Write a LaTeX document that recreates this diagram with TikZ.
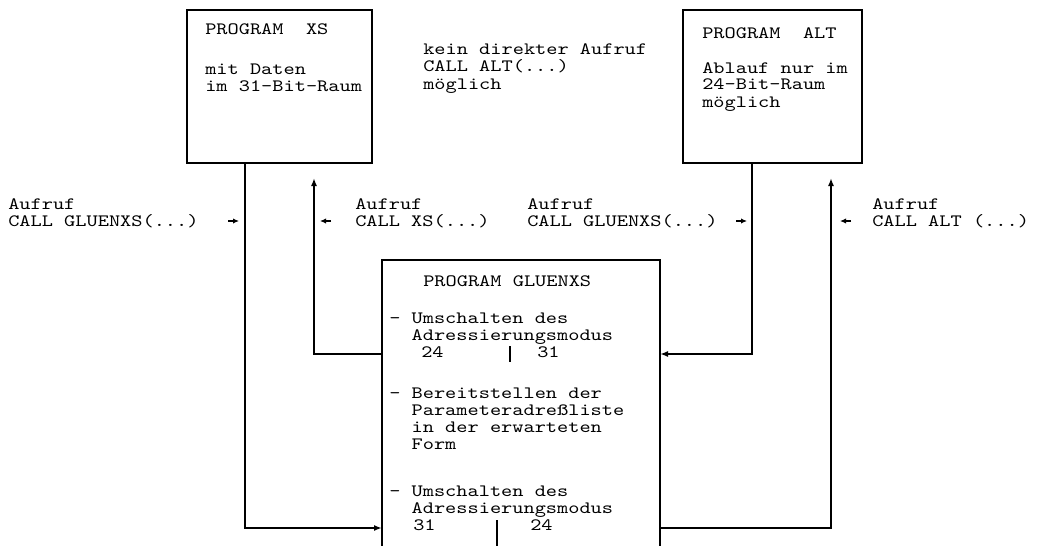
\documentclass[tikz,border=0pt]{standalone}
\usepackage{fontspec}
\setmonofont[FakeStretch=1.23]{lmmono10-regular.otf}
\usetikzlibrary{arrows.meta,positioning}
\tikzset{
  txt/.style={font=\ttfamily\fontsize{13}{12.75}\selectfont,anchor=base west,inner sep=0pt,align=left},
  progbox/.style={draw,line width=1.5pt,minimum height=114.75pt,inner sep=0pt},
  conn/.style={line width=1.3pt,-{Latex[length=6pt,width=4.5pt]}},
  callmark/.style={line width=1.2pt,-{Latex[length=4.5pt,width=4pt]}}
}

\begin{document}
\begin{tikzpicture}[x=0.75pt,y=-0.75pt]
\useasboundingbox (0,0) rectangle (1040,546);
\node[progbox,minimum width=138.75pt] (xs) at (279.5,86.5) {};
\node[progbox,minimum width=134.25pt] (alt) at (772.5,86.5) {};
\node[txt] (xstitle) at (205,35) {PROGRAM\ \ XS};
\node[txt] (xsdesc) at (205,91) {mit Daten\\im 31-Bit-Raum};
\node[txt] (nocall) at (423,89) {kein direkter Aufruf\\CALL ALT(...)\\möglich};
\node[txt] (alttitle) at (702,38) {PROGRAM\ \ ALT};
\node[txt] (altdesc) at (702,107) {Ablauf nur im\\24-Bit-Raum\\möglich};
\node[txt] (callglue) at (8,226) {Aufruf\\CALL GLUENXS(...)};
\node[txt] (callxs) at (355,226) {Aufruf\\CALL XS(...)};
\node[txt] (callglueb) at (527,226) {Aufruf\\CALL GLUENXS(...)};
\node[txt] (callalt) at (872,226) {Aufruf\\CALL ALT (...)};
\foreach \a/\b in {228/239,331/320,736/747,851/840}
  \draw[callmark] (\a,221) -- (\b,221);
\coordinate (gsw) at (382,550);
\coordinate (gne) at (660,260);
\draw[line width=1.5pt] (gsw) |- (gne) -- (gne |- gsw);
\node[txt] (gtitle) at (423,286) {PROGRAM GLUENXS};
\node[txt] (gstepa) at (389,340) {- Umschalten des\\\phantom{xx}Adressierungsmodus};
\node[txt] (gfroma) at (421,357) {24};
\node[txt] (gtoa) at (537,357) {31};
\node[txt] (gstepb) at (389,449) {- Bereitstellen der\\\phantom{xx}Parameteradreßliste\\\phantom{xx}in der erwarteten\\\phantom{xx}Form};
\node[txt] (gstepc) at (389,513) {- Umschalten des\\\phantom{xx}Adressierungsmodus};
\node[txt] (gfromb) at (413,530) {31};
\node[txt] (gtob) at (530,530) {24};
\draw[line width=2pt] (510,346) -- (510,362);
\draw[line width=2pt] (497,520) -- (497,550);
\coordinate (xsout) at (245,163);
\coordinate (xsin) at (314,178);
\coordinate (altout) at (752,163);
\coordinate (altin) at (831,178);
\coordinate (glin) at (382,354);
\coordinate (glout) at (382,528);
\coordinate (grin) at (660,354);
\coordinate (grout) at (660,528);
\draw[conn] (xsout) |- (glout);
\draw[conn] (glin) -| (xsin);
\draw[conn] (altout) |- (grin);
\draw[conn] (grout) -| (altin);
\end{tikzpicture}
\end{document}
